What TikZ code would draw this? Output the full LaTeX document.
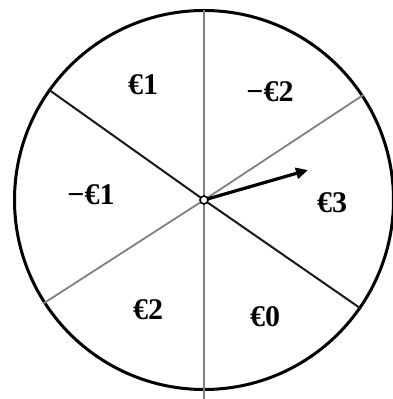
\documentclass[tikz,border=0pt]{standalone}
\usepackage{fontspec}
\setmainfont{Liberation Serif}
\usetikzlibrary{arrows.meta}
\begin{document}
\begin{tikzpicture}[x=1pt,y=1pt,
  rim/.style={line width=3pt,draw=black},
  blackdiv/.style={line width=2pt,draw=black!90},
  graydiv/.style={line width=1.8pt,draw=black!50},
  lbl/.style={font=\fontsize{30}{30}\selectfont\bfseries}]
\useasboundingbox (0,0) rectangle (393,399);
\coordinate (c) at (204,199);
\draw[rim] (c) circle (189.5);
\draw[graydiv] (204,389) -- (204,0);
\draw[blackdiv] (c) -- ++(144.6:191);
\draw[blackdiv] (c) -- ++(-34.7:191);
\draw[graydiv] (c) -- ++(33.4:191);
\draw[graydiv] (c) -- ++(212.8:191);
\coordinate (tip) at (308,229);
\draw[line width=3.2pt,-{Triangle[length=12pt,width=11pt]}] (c) -- (tip);
\node[circle,draw=black,fill=white,line width=1.6pt,inner sep=0pt,minimum size=8pt] (hub) at (c) {};
\node[lbl] (a) at (143,314) {€1};
\node[lbl] (b) at (270,307) {−€2};
\node[lbl] (d) at (91,204) {−€1};
\node[lbl] (e) at (332,196) {€3};
\node[lbl] (f) at (148,89) {€2};
\node[lbl] (g) at (265,82) {€0};
\end{tikzpicture}
\end{document}
